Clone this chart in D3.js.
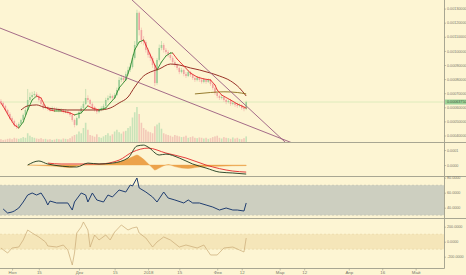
<!DOCTYPE html>
<html><head><meta charset="utf-8">
<script src="https://d3js.org/d3.v7.min.js"></script>
<style>
 body{margin:0;background:#fdf5d3;}
 svg{display:block;font-family:"Liberation Sans",Arial,sans-serif;}
 .axis text{font-size:3.7px;fill:#77776c;}
 .axis line{stroke:#9a9a88;stroke-width:0.6;}
 .axis path{display:none;}
 .taxis text{font-size:4.4px;}
</style></head><body>
<div id="chartDiv"></div>
<script>
//Daily candles, prices in units of 0.00001
var firstDay = Date.UTC(2017,9,27);
var open  = [64.5,63.1,61.0,58.1,55.3,52.4,50.3,47.5,46.1,48.2, 51.0,54.6,58.1,65.2,67.3,68.7,69.5,68.0,65.2,62.4,
 59.5,60.2,58.8,58.1,59.5,58.1,58.8,57.4,58.1,56.7, 57.4,56.0,54.6,51.0,47.5,52.4,56.7,59.5,62.4,66.6,
 65.2,62.4,60.2,58.1,56.7,58.1,59.5,61.0,65.2,66.6, 68.0,66.6,68.7,72.3,79.4,80.8,79.4,83.6,86.5,88.6,
 95.0,104.2,127.0,114.8,107.7,106.3,100.7,97.1,95.0,90.0, 77.2,93.6,102.1,104.2,100.7,99.2,97.1,95.0,92.1,90.0,
 87.9,85.0,86.5,83.6,82.2,85.0,82.9,80.8,79.4,80.8, 79.4,78.0,79.4,78.0,79.4,76.5,73.7,70.2,68.0,66.6,
 67.3,65.2,63.8,64.5,62.4,63.1,61.7,61.0,61.7,59.5, 58.8];
var high  = [65.8,64.0,61.8,59.0,56.5,53.6,51.2,48.6,49.4,52.0, 55.6,59.5,73.0,70.5,71.0,71.5,70.8,69.0,66.0,63.0,
 61.8,61.0,59.8,60.6,60.3,60.0,59.6,59.4,58.8,58.6, 58.2,56.8,55.2,52.0,53.5,57.8,61.0,64.2,73.0,68.5,
 66.0,63.5,61.0,59.0,59.4,60.8,62.5,66.8,68.4,69.8, 69.0,70.2,74.0,81.5,83.0,82.5,85.4,88.8,91.5,97.5,
 107.0,129.2,128.0,116.5,110.5,107.5,102.0,98.6,96.2,91.0, 95.0,104.5,107.0,105.5,102.0,100.5,98.2,96.2,93.4,91.2,
 88.8,88.0,87.4,85.0,86.4,85.8,83.8,82.0,82.2,81.8, 80.5,80.8,80.2,80.6,80.0,77.2,74.5,71.2,69.0,68.6,
 68.0,66.2,65.8,65.0,64.4,63.8,62.6,62.8,62.0,60.4, 64.6];
var low   = [62.0,60.2,57.0,54.2,51.3,49.0,46.2,44.6,45.3,47.5, 50.2,53.8,57.5,63.8,66.0,67.5,66.8,64.0,61.0,58.5,
 58.6,57.6,56.9,57.2,57.0,57.1,56.4,56.5,55.6,55.8, 55.0,53.2,49.8,45.8,46.8,51.6,55.8,58.6,61.5,63.8,
 61.2,59.0,56.8,55.2,55.8,57.2,58.6,60.4,64.2,65.5, 65.0,65.8,67.9,71.5,77.8,77.6,78.5,82.4,85.0,87.5,
 93.8,103.0,111.0,105.0,104.0,98.8,95.2,92.8,88.0,75.0, 76.0,92.5,100.5,98.8,97.5,95.6,93.4,90.8,88.6,86.4,
 83.5,84.0,82.0,80.8,81.4,81.5,79.4,78.0,78.4,78.0, 76.8,77.0,76.6,77.2,75.2,72.4,68.8,66.5,65.2,65.6,
 63.8,62.2,62.8,61.0,61.4,60.2,59.6,60.0,58.2,57.2, 58.0];
var close = [63.1,61.0,58.1,55.3,52.4,50.3,47.5,46.1,48.2,51.0, 54.6,58.1,65.2,67.3,68.7,69.5,68.0,65.2,62.4,59.5,
 60.2,58.8,58.1,59.5,58.1,58.8,57.4,58.1,56.7,57.4, 56.0,54.6,51.0,47.5,52.4,56.7,59.5,62.4,66.6,65.2,
 62.4,60.2,58.1,56.7,58.1,59.5,61.0,65.2,66.6,68.0, 66.6,68.7,72.3,79.4,80.8,79.4,83.6,86.5,88.6,95.0,
 104.2,127.0,114.8,107.7,106.3,100.7,97.1,95.0,90.0,77.2, 93.6,102.1,104.2,100.7,99.2,97.1,95.0,92.1,90.0,87.9,
 85.0,86.5,83.6,82.2,85.0,82.9,80.8,79.4,80.8,79.4, 78.0,79.4,78.0,79.4,76.5,73.7,70.2,68.0,66.6,67.3,
 65.2,63.8,64.5,62.4,63.1,61.7,61.0,61.7,59.5,58.8, 63.75];
var volume = [8,6,7,9,10,8,12,10,9,11, 14,12,25,18,14,12,10,9,11,8,
 9,7,8,6,7,9,8,7,10,9, 8,11,16,20,22,30,25,40,55,35,
 20,18,15,22,14,12,16,20,25,18, 22,30,35,28,24,30,32,40,45,70,
 85,100,80,55,40,35,30,28,25,45, 50,55,38,25,22,20,18,15,20,18,
 16,14,15,18,12,14,16,12,11,13, 12,10,12,9,11,14,16,18,12,10,
 14,12,11,9,13,10,12,9,8,11, 16];

//Moving averages read at candle indices
var maFastAt  = [0,2,4,6,8,10,12,14,16,18,20,22,24,27,29,31,33,36,38,39,41,44,47,49,51,53,56,58,60,62,64,65,67,69,70,72,74,76,77,79,82,85,88,91,94,96,97,99,103,106,109,110];
var maFastVal = [63.1,58.1,52.4,47.5,45.3,49.6,58.1,65.2,68.0,66.6,60.2,58.1,57.4,57.4,56.7,56.0,54.6,56.0,59.5,61.0,59.5,58.1,59.5,63.1,66.6,73.7,79.4,88.6,100.7,106.3,107.7,104.2,97.1,90.0,86.5,92.1,96.4,98.5,98.5,94.3,89.3,84.3,81.5,80.1,79.4,75.8,72.3,68.7,65.2,62.4,60.2,59.5];
var maSlowAt  = [9,12,16,19,24,30,39,44,49,53,57,60,64,67,71,76,80,85,89,94,98,103,107,110];
var maSlowVal = [58.1,61.0,61.7,60.2,58.8,58.1,58.1,58.1,59.5,63.1,67.3,74.4,82.2,85.0,87.2,90.7,90.0,87.9,86.5,84.3,82.2,78.7,73.7,68.0];
var maLongAt  = [87,94,100,106,110];
var maLongVal = [69.5,70.5,71.0,70.5,69.5];

//Trend lines (date, price)
var trendA = [[Date.UTC(2017,9,26,14),116.2],[Date.UTC(2018,2,8),33.9]];
var trendB = [[Date.UTC(2017,11,24),137.3],[Date.UTC(2018,2,6),31.6]];

//MACD, units of 0.00001
var macdAt  = [12,17,21,34,39,44,50,57,61,64,66,71,74,80,86,92,98,104,110];
var macdVal = [0,2.7,0.7,-1.3,1.3,0.7,1.3,4.7,12.7,13.3,12.0,6.7,7.3,4.7,0.7,-2.0,-4.7,-5.3,-6.0];
var signalAt  = [21,27,44,53,59,66,74,83,92,104,110];
var signalVal = [1.3,0.7,0.7,3.3,8.7,11.3,8.0,4.7,0,-4.0,-4.7];
var histAt  = [12,20,26,31,35,40,46,50,55,59,61,63,66,68,69,71,73,75,78,81,84,88,92,98,104,110];
var histVal = [0,-0.5,-1.0,-1.7,-0.3,0.3,0.5,1.0,3.0,5.5,6.7,5.0,1.0,-2.0,-3.3,-2.0,-0.5,0.3,-1.0,-2.0,-2.3,-1.5,-1.0,-0.8,-0.5,-0.4];

//RSI
var rsiAt  = [1,3,5,6,8,10,12,14,16,18,20,21,22,25,30,32,33,36,38,39,41,43,46,48,50,53,56,58,59,61,62,65,68,70,73,75,78,82,84,86,89,92,95,98,101,104,106,109,110];
var rsiVal = [38.3,32.9,34.3,35.6,39.6,47.6,56.9,59.6,56.9,59.6,50.3,43.6,48.9,46.3,46.3,36.9,47.6,59.6,56.9,47.6,59.6,50.3,47.6,56.9,54.3,63.6,60.9,70.3,68.9,79.6,66.3,60.9,54.3,47.6,60.9,52.9,50.3,46.3,50.3,46.3,46.3,43.6,40.9,36.9,39.6,36.9,36.9,35.6,46.3];

//CCI
var cciAt  = [0,3,5,8,10,12,14,17,20,21,25,28,30,32,33,34,36,37,39,40,42,44,47,49,51,54,57,59,61,62,65,68,70,73,76,80,83,88,91,94,97,100,104,107,109,110];
var cciVal = [-84,-151,-84,-71,23,156,116,63,-4,-57,-71,-44,-111,-311,-151,116,196,263,156,-71,89,23,89,23,129,223,156,183,196,116,49,-71,-4,63,23,-71,-44,-84,-44,-177,-177,-84,-71,-111,-137,49];

//Axis ticks
var timeTicks  = [Date.UTC(2017,10,1),Date.UTC(2017,10,13),Date.UTC(2017,11,1),Date.UTC(2017,11,17),Date.UTC(2018,0,1),Date.UTC(2018,0,15),
 Date.UTC(2018,1,1),Date.UTC(2018,1,12),Date.UTC(2018,2,1),Date.UTC(2018,2,12),Date.UTC(2018,3,1),Date.UTC(2018,3,16),Date.UTC(2018,4,1)];
var timeLabels = ["Ноя","15","Дек","15","2018","15","Фев","12","Мар","12","Апр","16","Май"];
var priceTicks = [130,120,110,100,90,80,70,60,50,40];
var macdTicks = [10,0];
var rsiTicks = [80,60,40];
var cciTicks = [200,0,-200];

var W = 466, H = 275, plotRight = 444;
var panes = {main:[0,142], macd:[143,176], rsi:[177,218], cci:[219,268]};
var svg, x, days;

function toDay(i){ return days[i]; }

function drawChart(){
 days = open.map((d,i) => d3.utcDay.offset(new Date(firstDay), i));
 svg = d3.select("#chartDiv").append("svg").attr("width",W).attr("height",H);
 svg.append("rect").attr("width",W).attr("height",H).attr("fill","#fdf5d3");

 x = d3.scaleUtc()
  .domain([new Date(Date.UTC(2017,9,26,14)), new Date(Date.UTC(2018,4,13,17))])
  .range([0, plotRight]);

 var defs = svg.append("defs");
 defs.append("clipPath").attr("id","clipMain").append("rect")
  .attr("x",0).attr("y",panes.main[0]).attr("width",plotRight).attr("height",panes.main[1]-panes.main[0]);

 var yP = d3.scaleLinear().domain([35.4,136.1]).range([panes.main[1],panes.main[0]]);
 var yV = d3.scaleLinear().domain([0,100]).range([panes.main[1],panes.main[1]-35]);
 var yM = d3.scaleLinear().domain([-7.3,14.7]).range([panes.macd[1],panes.macd[0]]);
 var yR = d3.scaleLinear().domain([26.27,80.93]).range([panes.rsi[1],panes.rsi[0]]);
 var yC = d3.scaleLinear().domain([-350.7,302.7]).range([panes.cci[1],panes.cci[0]]);

 //Main pane
 var main = svg.append("g").attr("clip-path","url(#clipMain)");
 main.selectAll(".vol").data(volume).enter().append("rect")	//Volume bars
  .attr("x",(d,i) => x(toDay(i)) - 0.8).attr("width",1.6)
  .attr("y",d => yV(d)).attr("height",d => yV(0)-yV(d))
  .attr("fill",(d,i) => close[i] >= open[i] ? "#c9e3b9" : "#f3c9b8");

 main.append("line")						//Last price line
  .attr("x1",0).attr("x2",plotRight).attr("y1",yP(63.75)).attr("y2",yP(63.75))
  .attr("stroke","#d5e8b6").attr("stroke-width",0.8);

 main.selectAll(".wick").data(close).enter().append("line")	//Wicks
  .attr("x1",(d,i) => x(toDay(i))).attr("x2",(d,i) => x(toDay(i)))
  .attr("y1",(d,i) => yP(high[i])).attr("y2",(d,i) => yP(low[i]))
  .attr("stroke",(d,i) => d >= open[i] ? "#9ccd97" : "#f0a3a0").attr("stroke-width",0.5);
 main.selectAll(".body").data(close).enter().append("rect")	//Bodies
  .attr("x",(d,i) => x(toDay(i)) - 0.8).attr("width",1.6)
  .attr("y",(d,i) => yP(Math.max(d,open[i])))
  .attr("height",(d,i) => Math.max(0.5, Math.abs(yP(d)-yP(open[i]))))
  .attr("fill",(d,i) => d >= open[i] ? "#9ccd97" : "#f0a3a0");

 var lineP = d3.line().x(d => x(toDay(d[0]))).y(d => yP(d[1])).curve(d3.curveMonotoneX);
 main.append("path").datum(d3.zip(maSlowAt,maSlowVal))		//Slow MA
  .attr("d",lineP).attr("fill","none").attr("stroke","#8c1c14").attr("stroke-width",0.9);
 main.append("path").datum(d3.zip(maLongAt,maLongVal))		//Long MA
  .attr("d",lineP).attr("fill","none").attr("stroke","#8a6d1c").attr("stroke-width",0.9);
 for(var k = 0; k < maFastAt.length-1; k++){			//Fast MA, green rising, red falling
  main.append("line")
   .attr("x1",x(toDay(maFastAt[k]))).attr("y1",yP(maFastVal[k]))
   .attr("x2",x(toDay(maFastAt[k+1]))).attr("y2",yP(maFastVal[k+1]))
   .attr("stroke",maFastVal[k+1] >= maFastVal[k] ? "#2f8a2c" : "#e3282a")
   .attr("stroke-width",0.9).attr("stroke-linecap","round");
 }
 [trendA,trendB].forEach(function(t){				//Trend lines
  main.append("line")
   .attr("x1",x(new Date(t[0][0]))).attr("y1",yP(t[0][1]))
   .attr("x2",x(new Date(t[1][0]))).attr("y2",yP(t[1][1]))
   .attr("stroke","#9a5b7f").attr("stroke-width",0.9);
 });

 //MACD pane
 var area = d3.area().x(d => x(toDay(d[0]))).y0(yM(0)).y1(d => yM(d[1])).curve(d3.curveMonotoneX);
 svg.append("path").datum(d3.zip(histAt,histVal))
  .attr("d",area).attr("fill","#eca24a").attr("stroke","#eca24a").attr("stroke-width",0.4);
 var lineM = d3.line().x(d => x(toDay(d[0]))).y(d => yM(d[1])).curve(d3.curveMonotoneX);
 svg.append("path").datum(d3.zip(signalAt,signalVal))
  .attr("d",lineM).attr("fill","none").attr("stroke","#e3282a").attr("stroke-width",0.9);
 svg.append("path").datum(d3.zip(macdAt,macdVal))
  .attr("d",lineM).attr("fill","none").attr("stroke","#1d3a1d").attr("stroke-width",0.9);

 //RSI pane
 svg.append("rect").attr("x",0).attr("width",plotRight)
  .attr("y",yR(70)).attr("height",yR(30)-yR(70)).attr("fill","#cdcfc0");
 [70,30].forEach(v => svg.append("line").attr("x1",0).attr("x2",plotRight)
  .attr("y1",yR(v)).attr("y2",yR(v)).attr("stroke","#b6b8aa").attr("stroke-width",0.5).attr("stroke-dasharray","2,2"));
 svg.append("path").datum(d3.zip(rsiAt,rsiVal))
  .attr("d",d3.line().x(d => x(toDay(d[0]))).y(d => yR(d[1])))
  .attr("fill","none").attr("stroke","#1f3d70").attr("stroke-width",1);

 //CCI pane
 svg.append("rect").attr("x",0).attr("width",plotRight)
  .attr("y",yC(100)).attr("height",yC(-100)-yC(100)).attr("fill","#f5e6b9");
 [100,-100].forEach(v => svg.append("line").attr("x1",0).attr("x2",plotRight)
  .attr("y1",yC(v)).attr("y2",yC(v)).attr("stroke","#e0cf9c").attr("stroke-width",0.5).attr("stroke-dasharray","2,2"));
 svg.append("path").datum(d3.zip(cciAt,cciVal))
  .attr("d",d3.line().x(d => x(toDay(d[0]))).y(d => yC(d[1])))
  .attr("fill","none").attr("stroke","#c8a976").attr("stroke-width",0.7);

 //Separators and frame
 [panes.main[1],panes.macd[1],panes.rsi[1]].forEach(y => svg.append("line")
  .attr("x1",0).attr("x2",W).attr("y1",y+0.5).attr("y2",y+0.5).attr("stroke","#a8a692").attr("stroke-width",1));
 svg.append("line").attr("x1",0).attr("x2",plotRight+0.5).attr("y1",panes.cci[1]+0.5).attr("y2",panes.cci[1]+0.5)
  .attr("stroke","#a8a692");
 svg.append("line").attr("x1",plotRight+0.5).attr("x2",plotRight+0.5).attr("y1",0).attr("y2",panes.cci[1]+0.5)
  .attr("stroke","#a8a692");

 //Axes
 function rightAxis(scale, ticks, f){
  svg.append("g").attr("class","axis").attr("transform","translate("+plotRight+",0)")
   .call(d3.axisRight(scale).tickValues(ticks).tickFormat(f).tickSize(2).tickPadding(1));
 }
 rightAxis(yP, priceTicks, v => (v*1e-5).toFixed(8));
 rightAxis(yM, macdTicks, v => (v*1e-5).toFixed(4));
 rightAxis(yR, rsiTicks, v => v.toFixed(4));
 rightAxis(yC, cciTicks, v => v.toFixed(4));
 svg.append("g").attr("class","axis taxis").attr("transform","translate(0,"+(panes.cci[1]+0.5)+")")
  .call(d3.axisBottom(x).tickValues(timeTicks.map(t => new Date(t))).tickFormat((d,i) => timeLabels[i]).tickSize(2).tickPadding(0.8));

 //Last price tag
 var tag = svg.append("g").attr("transform","translate("+(plotRight+1)+","+yP(63.75)+")");
 tag.append("rect").attr("x",0).attr("y",-2.5).attr("width",W-plotRight-1).attr("height",5).attr("fill","#9fd49a");
 tag.append("text").attr("x",2).attr("y",1.3).attr("font-size","3.7px").attr("fill","#3d5a3a")
  .text((63.75*1e-5).toFixed(8));
}

drawChart();
</script>
</body></html>
